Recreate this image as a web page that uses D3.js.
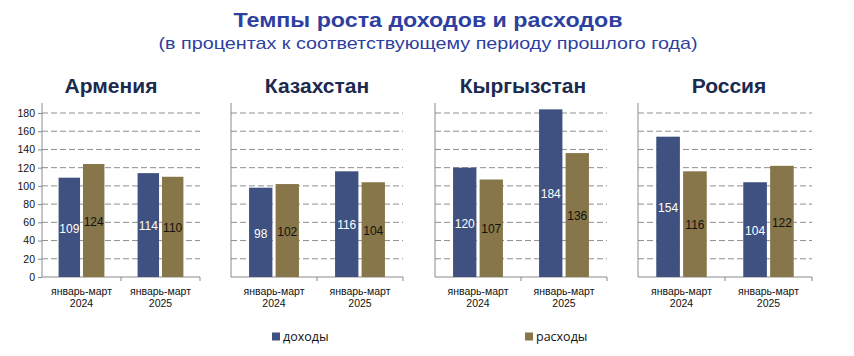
<!DOCTYPE html>
<html><head><meta charset="utf-8">
<script src="https://cdn.jsdelivr.net/npm/d3@7"></script>
<style>body{margin:0;background:#fff}svg{display:block}</style>
</head><body>
<svg id="c" width="854" height="356"></svg>
<script>
const title = "Темпы роста доходов и расходов";
const subtitle = "(в процентах к соответствующему периоду прошлого года)";
const countries = ["Армения", "Казахстан", "Кыргызстан", "Россия"];
const periods = ["январь-март", "январь-март"];
const years = ["2024", "2025"];
const seriesNames = ["доходы", "расходы"];
const incomeValues = [[109, 114], [98, 116], [120, 184], [154, 104]];
const expenseValues = [[124, 110], [102, 104], [107, 136], [116, 122]];
const yTicks = [0, 20, 40, 60, 80, 100, 120, 140, 160, 180];

const colors = ["#3f5180", "#867649"];
const labelColors = ["#ffffff", "#111111"];
const panelX = [[42, 200], [231, 403], [435, 607], [638, 812]];
const titleX = [111, 317, 523, 729];

const svg = d3.select("#c");
const y = d3.scaleLinear().domain([0, 180]).range([277, 113]);

svg.append("text").attr("x", 428).attr("y", 27).attr("text-anchor", "middle")
  .attr("font-family", "Liberation Sans, Arial, sans-serif").attr("font-weight", "bold")
  .attr("font-size", 21).attr("fill", "#2d3f9f")
  .attr("textLength", 389).attr("lengthAdjust", "spacingAndGlyphs").text(title);
svg.append("text").attr("x", 428).attr("y", 49).attr("text-anchor", "middle")
  .attr("font-family", "Liberation Sans, Arial, sans-serif")
  .attr("font-size", 17).attr("fill", "#2d3f9f")
  .attr("textLength", 539).attr("lengthAdjust", "spacingAndGlyphs").text(subtitle);

countries.forEach((country, i) => {
  const [x0p, x1p] = panelX[i];
  const g = svg.append("g");
  const x0 = d3.scaleBand().domain(d3.range(periods.length)).range([x0p, x1p]).padding(0);
  const groupW = x0.bandwidth() * 0.58;
  const x1 = d3.scaleBand().domain(d3.range(seriesNames.length)).range([0, groupW]).paddingInner(0.12);

  g.selectAll("line.grid").data(yTicks.filter(d => d > 0)).join("line")
    .attr("x1", x0p).attr("x2", x1p).attr("y1", d => y(d)).attr("y2", d => y(d))
    .attr("stroke", "#8f8f8f").attr("stroke-width", 1).attr("stroke-dasharray", "6,3");

  if (i === 0) {
    const ax = g.append("g").attr("transform", `translate(${x0p},0)`)
      .call(d3.axisLeft(y).tickValues(yTicks).tickSize(4).tickPadding(3));
    ax.select(".domain").remove();
    ax.selectAll("line").attr("stroke", "#8a8a8a");
    ax.selectAll("text").attr("font-family", "Liberation Sans, Arial, sans-serif")
      .attr("font-size", 10.5).attr("fill", "#111");
  }
  g.append("line").attr("x1", x0p).attr("x2", x0p).attr("y1", y(0)).attr("y2", y(180) - 10)
    .attr("stroke", "#8a8a8a");
  g.append("line").attr("x1", x0p).attr("x2", x1p).attr("y1", y(0)).attr("y2", y(0))
    .attr("stroke", "#8a8a8a");
  const bounds = d3.range(periods.length + 1).map(k => x0p + k * x0.step());
  g.selectAll("line.ct").data(bounds.slice(1)).join("line")
    .attr("x1", d => d).attr("x2", d => d).attr("y1", y(0)).attr("y2", y(0) + 4)
    .attr("stroke", "#8a8a8a");

  const rows = d3.range(periods.length).map(p => ({p, vals: [incomeValues[i][p], expenseValues[i][p]]}));
  const grp = g.selectAll("g.grp").data(rows).join("g")
    .attr("transform", d => `translate(${x0(d.p) + (x0.bandwidth() - groupW) / 2},0)`);
  grp.selectAll("rect").data(d => d.vals.map((v, s) => ({v, s}))).join("rect")
    .attr("x", d => x1(d.s)).attr("width", x1.bandwidth())
    .attr("y", d => y(d.v)).attr("height", d => y(0) - y(d.v))
    .attr("fill", d => colors[d.s]);
  grp.selectAll("text").data(d => d.vals.map((v, s) => ({v, s}))).join("text")
    .attr("x", d => x1(d.s) + x1.bandwidth() / 2)
    .attr("y", d => (y(d.v) + y(0)) / 2 + 1)
    .attr("dy", "0.35em").attr("text-anchor", "middle")
    .attr("font-family", "Liberation Sans, Arial, sans-serif").attr("font-size", 12)
    .attr("fill", d => labelColors[d.s]).text(d => d.v);

  const xl = g.selectAll("text.xl").data(d3.range(periods.length)).join("text")
    .attr("text-anchor", "middle").attr("font-family", "Liberation Sans, Arial, sans-serif")
    .attr("font-size", 10.5).attr("fill", "#111");
  xl.append("tspan").attr("x", p => x0(p) + x0.bandwidth() / 2).attr("y", 295).text(p => periods[p]);
  xl.append("tspan").attr("x", p => x0(p) + x0.bandwidth() / 2).attr("y", 306.5).text(p => years[p]);

  svg.append("text").attr("x", titleX[i]).attr("y", 93).attr("text-anchor", "middle")
    .attr("font-family", "Liberation Sans, Arial, sans-serif").attr("font-weight", "bold")
    .attr("font-size", 21).attr("fill", "#1b2a4e").text(country);
});

const legX = [272, 525];
seriesNames.forEach((s, k) => {
  svg.append("rect").attr("x", legX[k]).attr("y", 332.5).attr("width", 8).attr("height", 8)
    .attr("fill", colors[k]);
  svg.append("text").attr("x", legX[k] + 11).attr("y", 341)
    .attr("font-family", "Open Sans, Liberation Sans, sans-serif").attr("font-size", 12.5)
    .attr("fill", "#111").text(s);
});
</script>
</body></html>
